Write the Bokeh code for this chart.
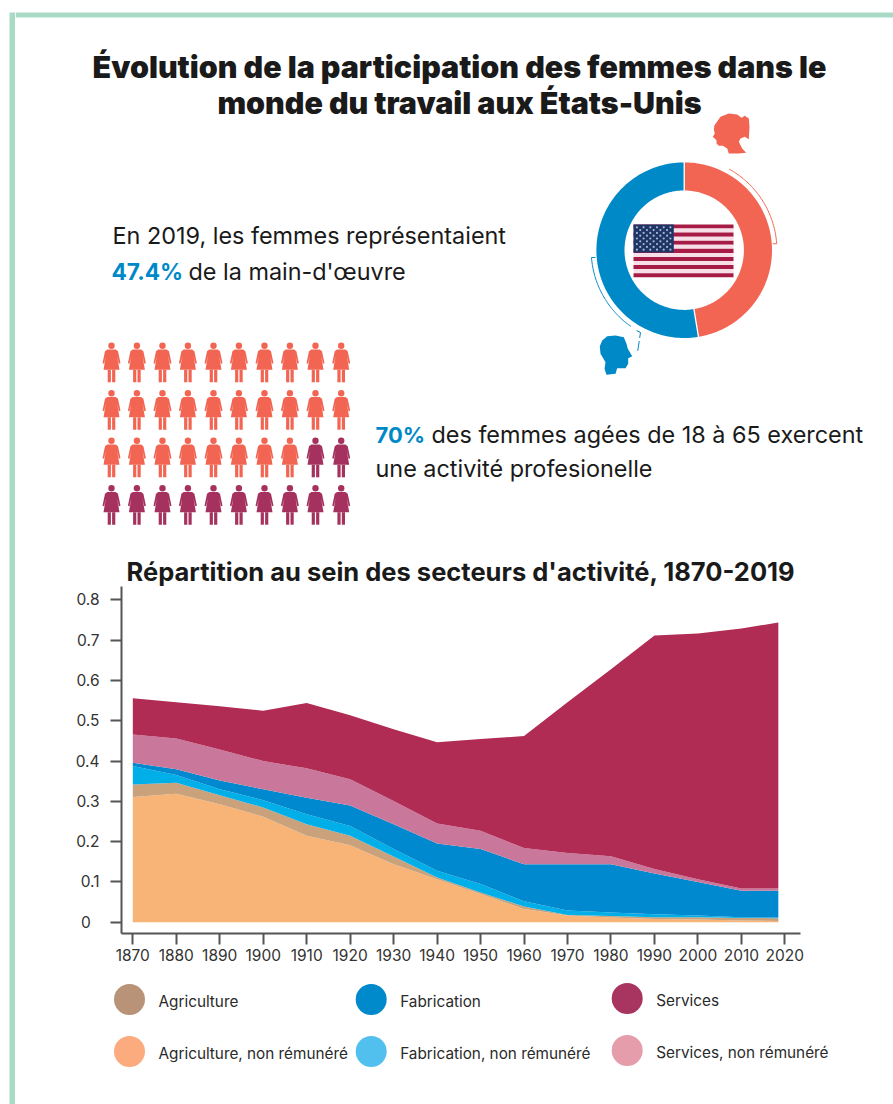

from bokeh.embed import file_html
from bokeh.layouts import column, row
from bokeh.models import FixedTicker, LinearAxis, Range1d
from bokeh.plotting import figure
from bokeh.resources import INLINE
from bokeh.core.properties import value
import numpy as np

# ---- figures shown on the page ----
women_share_2019 = 47.4
employed_share = 70

years = [1870, 1880, 1890, 1900, 1910, 1920, 1930, 1940, 1950, 1960, 1970, 1980, 1990, 2000, 2010, 2018.5]

# Upper edge of every band of the stacked area
agri_unpaid_top = [0.311, 0.319, 0.293, 0.262, 0.2145, 0.191, 0.144, 0.107, 0.070, 0.033, 0.0165, 0.012, 0.008, 0.007, 0.004, 0.003]
agri_top = [0.342, 0.3465, 0.315, 0.285, 0.243, 0.2145, 0.163, 0.111, 0.074, 0.039, 0.018, 0.0157, 0.0124, 0.0124, 0.0107, 0.010]
manuf_unpaid_top = [0.388, 0.3655, 0.330, 0.303, 0.268, 0.239, 0.1815, 0.128, 0.095, 0.052, 0.029, 0.024, 0.020, 0.0165, 0.0124, 0.0115]
manuf_top = [0.396, 0.380, 0.352, 0.330, 0.309, 0.290, 0.243, 0.1955, 0.1815, 0.144, 0.144, 0.144, 0.121, 0.100, 0.078, 0.078]
serv_unpaid_top = [0.466, 0.456, 0.429, 0.400, 0.382, 0.355, 0.301, 0.245, 0.227, 0.184, 0.172, 0.164, 0.132, 0.107, 0.084, 0.084]
serv_top = [0.556, 0.546, 0.536, 0.525, 0.544, 0.514, 0.479, 0.447, 0.455, 0.462, 0.546, 0.628, 0.712, 0.717, 0.729, 0.744]

bands = [agri_unpaid_top, agri_top, manuf_unpaid_top, manuf_top, serv_unpaid_top, serv_top]
band_colors = ["#f7b476", "#c9a27c", "#00aee8", "#0089cf", "#c9779a", "#b02c55"]

legend_labels = ["Agriculture", "Fabrication", "Services",
                 "Agriculture, non rémunéré", "Fabrication, non rémunéré", "Services, non rémunéré"]
legend_colors = ["#b89378", "#0089cb", "#a83560", "#fbab7e", "#52c0ee", "#e59dac"]

y_ticks = [0, 0.1, 0.2, 0.3, 0.4, 0.5, 0.6, 0.7, 0.8]
x_ticks = list(range(1870, 2021, 10))

CORAL = "#f26553"
PLUM = "#a5325e"
BLUE = "#0089c7"
MINT = "#a9dac6"
INK = "#1a1a1a"
FONT = "Inter"
BODY = 23.4
PANEL_END = 553
CHART_END = 975


def canvas(x0, x1, y0, y1):
    """A borderless figure whose data units are page pixels."""
    f = figure(width=x1 - x0, height=y1 - y0, x_range=Range1d(x0, x1), y_range=Range1d(y1, y0),
               output_backend="svg", toolbar_location=None, min_border=0, frame_align=False,
               x_axis_type=None, y_axis_type=None, outline_line_color=None)
    f.grid.visible = False
    return f


def label(f, x, y, txt, size, color=INK, style="normal", align="left", font=FONT):
    f.text([x], [y], text=[txt], text_font=value(font), text_font_size=f"{size}px",
           text_font_style=style, text_color=color, text_align=align, text_baseline="middle")


# ---- left margin rule ----
gutter = canvas(0, 15, 0, 1104)
gutter.quad(left=9, right=15, top=12, bottom=1104, fill_color=MINT, line_color=None)

# ---- upper panel ----
top = canvas(15, 893, 0, PANEL_END)
top.quad(left=15, right=893, top=12, bottom=17, fill_color=MINT, line_color=None)
label(top, 459, 66, "Évolution de la participation des femmes dans le", 30.4, align="center", font="Inter Black")
label(top, 459, 102, "monde du travail aux États-Unis", 30.4, align="center", font="Inter Black")

label(top, 112, 235, "En 2019, les femmes représentaient", BODY)
label(top, 111, 271, f"{women_share_2019}%", 22.7, BLUE, "bold")
label(top, 188, 271, "de la main-d'œuvre", BODY)
label(top, 375, 434, f"{employed_share}%", 22, BLUE, "bold")
label(top, 431, 434, "des femmes agées de 18 à 65 exercent", BODY)
label(top, 375, 468, "une activité profesionelle", BODY)

# Ring: women clockwise from twelve o'clock, the rest in blue
cx, cy = 683.7, 249.7
r_in, r_out = 59.7, 87.8
theta = np.radians(women_share_2019 * 3.6)


def ring_point(angle, r):
    return cx + r * np.sin(angle), cy - r * np.cos(angle)


def ring_band(a0, a1, r0, r1, color):
    a = np.linspace(a0, a1, 120)
    xo, yo = ring_point(a, r1)
    xi, yi = ring_point(a[::-1], r0)
    top.patch(np.r_[xo, xi], np.r_[yo, yi], fill_color=color, line_color=None)


ring_band(0, theta, r_in, r_out, CORAL)
ring_band(theta, 2 * np.pi, r_in, r_out, BLUE)
for a in (0, theta):
    xs, ys = ring_point(a, np.array([r_in - 1, r_out + 1]))
    top.line(xs, ys, line_color="white", line_width=1.3)

# Thin brackets outside the ring
a = np.linspace(np.radians(29), np.radians(86), 60)
xs, ys = ring_point(a, 92.7)
top.line(np.r_[xs, xs[-1] - 4], np.r_[ys, ys[-1]], line_color=CORAL, line_width=1)
a = np.linspace(np.radians(265.5), np.radians(215), 60)
xs, ys = ring_point(a, 93)
top.line(np.r_[xs[0] + 4, xs], np.r_[ys[0], ys], line_color=BLUE, line_width=1)
top.line([636, 640, 637], [330, 332, 352], line_color=BLUE, line_width=1, line_dash="10 3")

# Flag in the middle of the ring
fx0, fx1, fy0, fy1 = 633, 733, 224, 276.7
stripe_h = (fy1 - fy0) / 13
for i in range(13):
    top.quad(left=fx0, right=fx1, top=fy0 + i * stripe_h, bottom=fy0 + (i + 1) * stripe_h,
             fill_color="#a61c46" if i % 2 == 0 else "#f6dfe6", line_color=None)
top.quad(left=fx0, right=673.3, top=fy0, bottom=252, fill_color="#1f3566", line_color=None)
sx, sy = [], []
for r in range(9):
    n = 6 if r % 2 == 0 else 5
    for c in range(n):
        sx.append(fx0 + 3.4 + c * 6.7 + (3.35 if r % 2 else 0))
        sy.append(fy0 + 2.8 + r * 2.8)
top.scatter(sx, sy, size=2.2, marker="circle", fill_color="#a9b6d0", line_color=None)

# Head profiles
woman_x = [714, 720, 728.3, 736.7, 741, 744.3, 748.3, 749, 748.3, 744.3, 740, 738.3, 741.7, 745.7, 738.3, 728.3, 726.7, 722.3, 718.3, 716, 716, 712.3, 714.3, 713.3]
woman_y = [124.7, 116.3, 113, 114, 117.3, 115.3, 118, 126.3, 138.7, 136.3, 138, 141.3, 148, 152.3, 153, 153, 148, 145.3, 145.3, 143, 139.7, 136.3, 133, 128.7]
top.patch(woman_x, woman_y, fill_color=CORAL, line_color=None)
man_x = [601.7, 606.7, 615, 623.3, 626, 627.3, 631.7, 627.7, 627.7, 625, 616.7, 615, 606, 604, 605, 600, 599.3]
man_y = [340, 335.7, 335, 336.7, 343.3, 348.3, 355.7, 357.7, 363.3, 367.7, 367.7, 373.3, 374.3, 368.3, 361.7, 353.3, 345.7]
top.patch(man_x, man_y, fill_color=BLUE, line_color=None)

# Pictogram grid, one figure for every 2.5 %
col_x = [111, 136.4, 162, 187.4, 213, 238.4, 264, 289.4, 315, 340.7]
row_y = [345.3, 392.7, 440.3, 487.7]
dress_x = np.array([-4.2, 4.2, 6.5, 9, 7.4, 5.6, 8, -8, -5.6, -7.4, -9, -6.5])
dress_y = np.array([3.7, 3.7, 5.5, 17.5, 18, 10, 24, 24, 10, 18, 17.5, 5.5])
n_coral = round(employed_share / 100 * len(col_x) * len(row_y))
k = 0
for ry in row_y:
    for rx in col_x:
        color = CORAL if k < n_coral else PLUM
        k += 1
        top.scatter([rx], [ry], size=6.4, marker="circle", fill_color=color, line_color=None)
        top.patch(rx + dress_x, ry + dress_y, fill_color=color, line_color=None)
        top.quad(left=[rx - 3.8, rx + 0.6], right=[rx - 0.6, rx + 3.8],
                 top=[ry + 24, ry + 24], bottom=[ry + 36.5, ry + 36.5], fill_color=color, line_color=None)

# ---- stacked area chart ----
PX_Y = 404.0
chart = figure(width=878, height=CHART_END - PANEL_END, output_backend="svg", toolbar_location=None, frame_align=False,
               x_range=Range1d(1867.4, 2023.6), y_range=Range1d(-(933 - 921.7) / PX_Y, (921.7 - 585) / PX_Y),
               x_axis_type=None, y_axis_type=None, outline_line_color=None,
               title="Répartition au sein des secteurs d'activité, 1870-2019",
               min_border_left=106, min_border_right=93, min_border_top=585 - PANEL_END,
               min_border_bottom=CHART_END - 933)
chart.title.align = "center"
chart.title.text_font = FONT
chart.title.text_font_size = "25.5px"
chart.title.text_font_style = "bold"
chart.title.text_color = INK
chart.title.standoff = 0
chart.grid.visible = False
lower = [0.0] * len(years)
for upper, color in zip(bands, band_colors):
    chart.varea(x=years, y1=lower, y2=upper, fill_color=color)
    lower = upper

for axis, side, ticks in ((LinearAxis(), "left", y_ticks), (LinearAxis(), "below", x_ticks)):
    axis.ticker = FixedTicker(ticks=ticks)
    axis.axis_line_color = "#555555"
    axis.axis_line_width = 2
    axis.major_tick_line_color = "#555555"
    axis.major_tick_line_width = 2
    axis.major_tick_in = 0
    axis.major_tick_out = 11
    axis.minor_tick_line_color = None
    axis.major_label_text_font = FONT
    axis.major_label_text_font_size = "15.5px"
    axis.major_label_text_color = "#333333"
    axis.major_label_standoff = 4
    chart.add_layout(axis, side)
chart.yaxis[0].major_label_overrides = {0: "0\u00a0\u00a0"}
chart.yaxis[0].major_label_standoff = 11

# ---- legend ----
legend = canvas(15, 893, CHART_END, 1104)
leg_x = [129, 370.7, 626.7]
leg_y = [999, 1051]
for i, (name, color) in enumerate(zip(legend_labels, legend_colors)):
    x = leg_x[i % 3]
    y = leg_y[i // 3] - (1 if i % 3 == 2 else 0)
    legend.scatter([x], [y], size=31, marker="circle", fill_color=color, line_color=None)
    label(legend, x + 29, y + 2, name, 15.3, "#2a2a2a")

page = row(gutter, column(top, chart, legend, spacing=0), spacing=0)
open("out.html", "w").write(file_html(page, INLINE))
